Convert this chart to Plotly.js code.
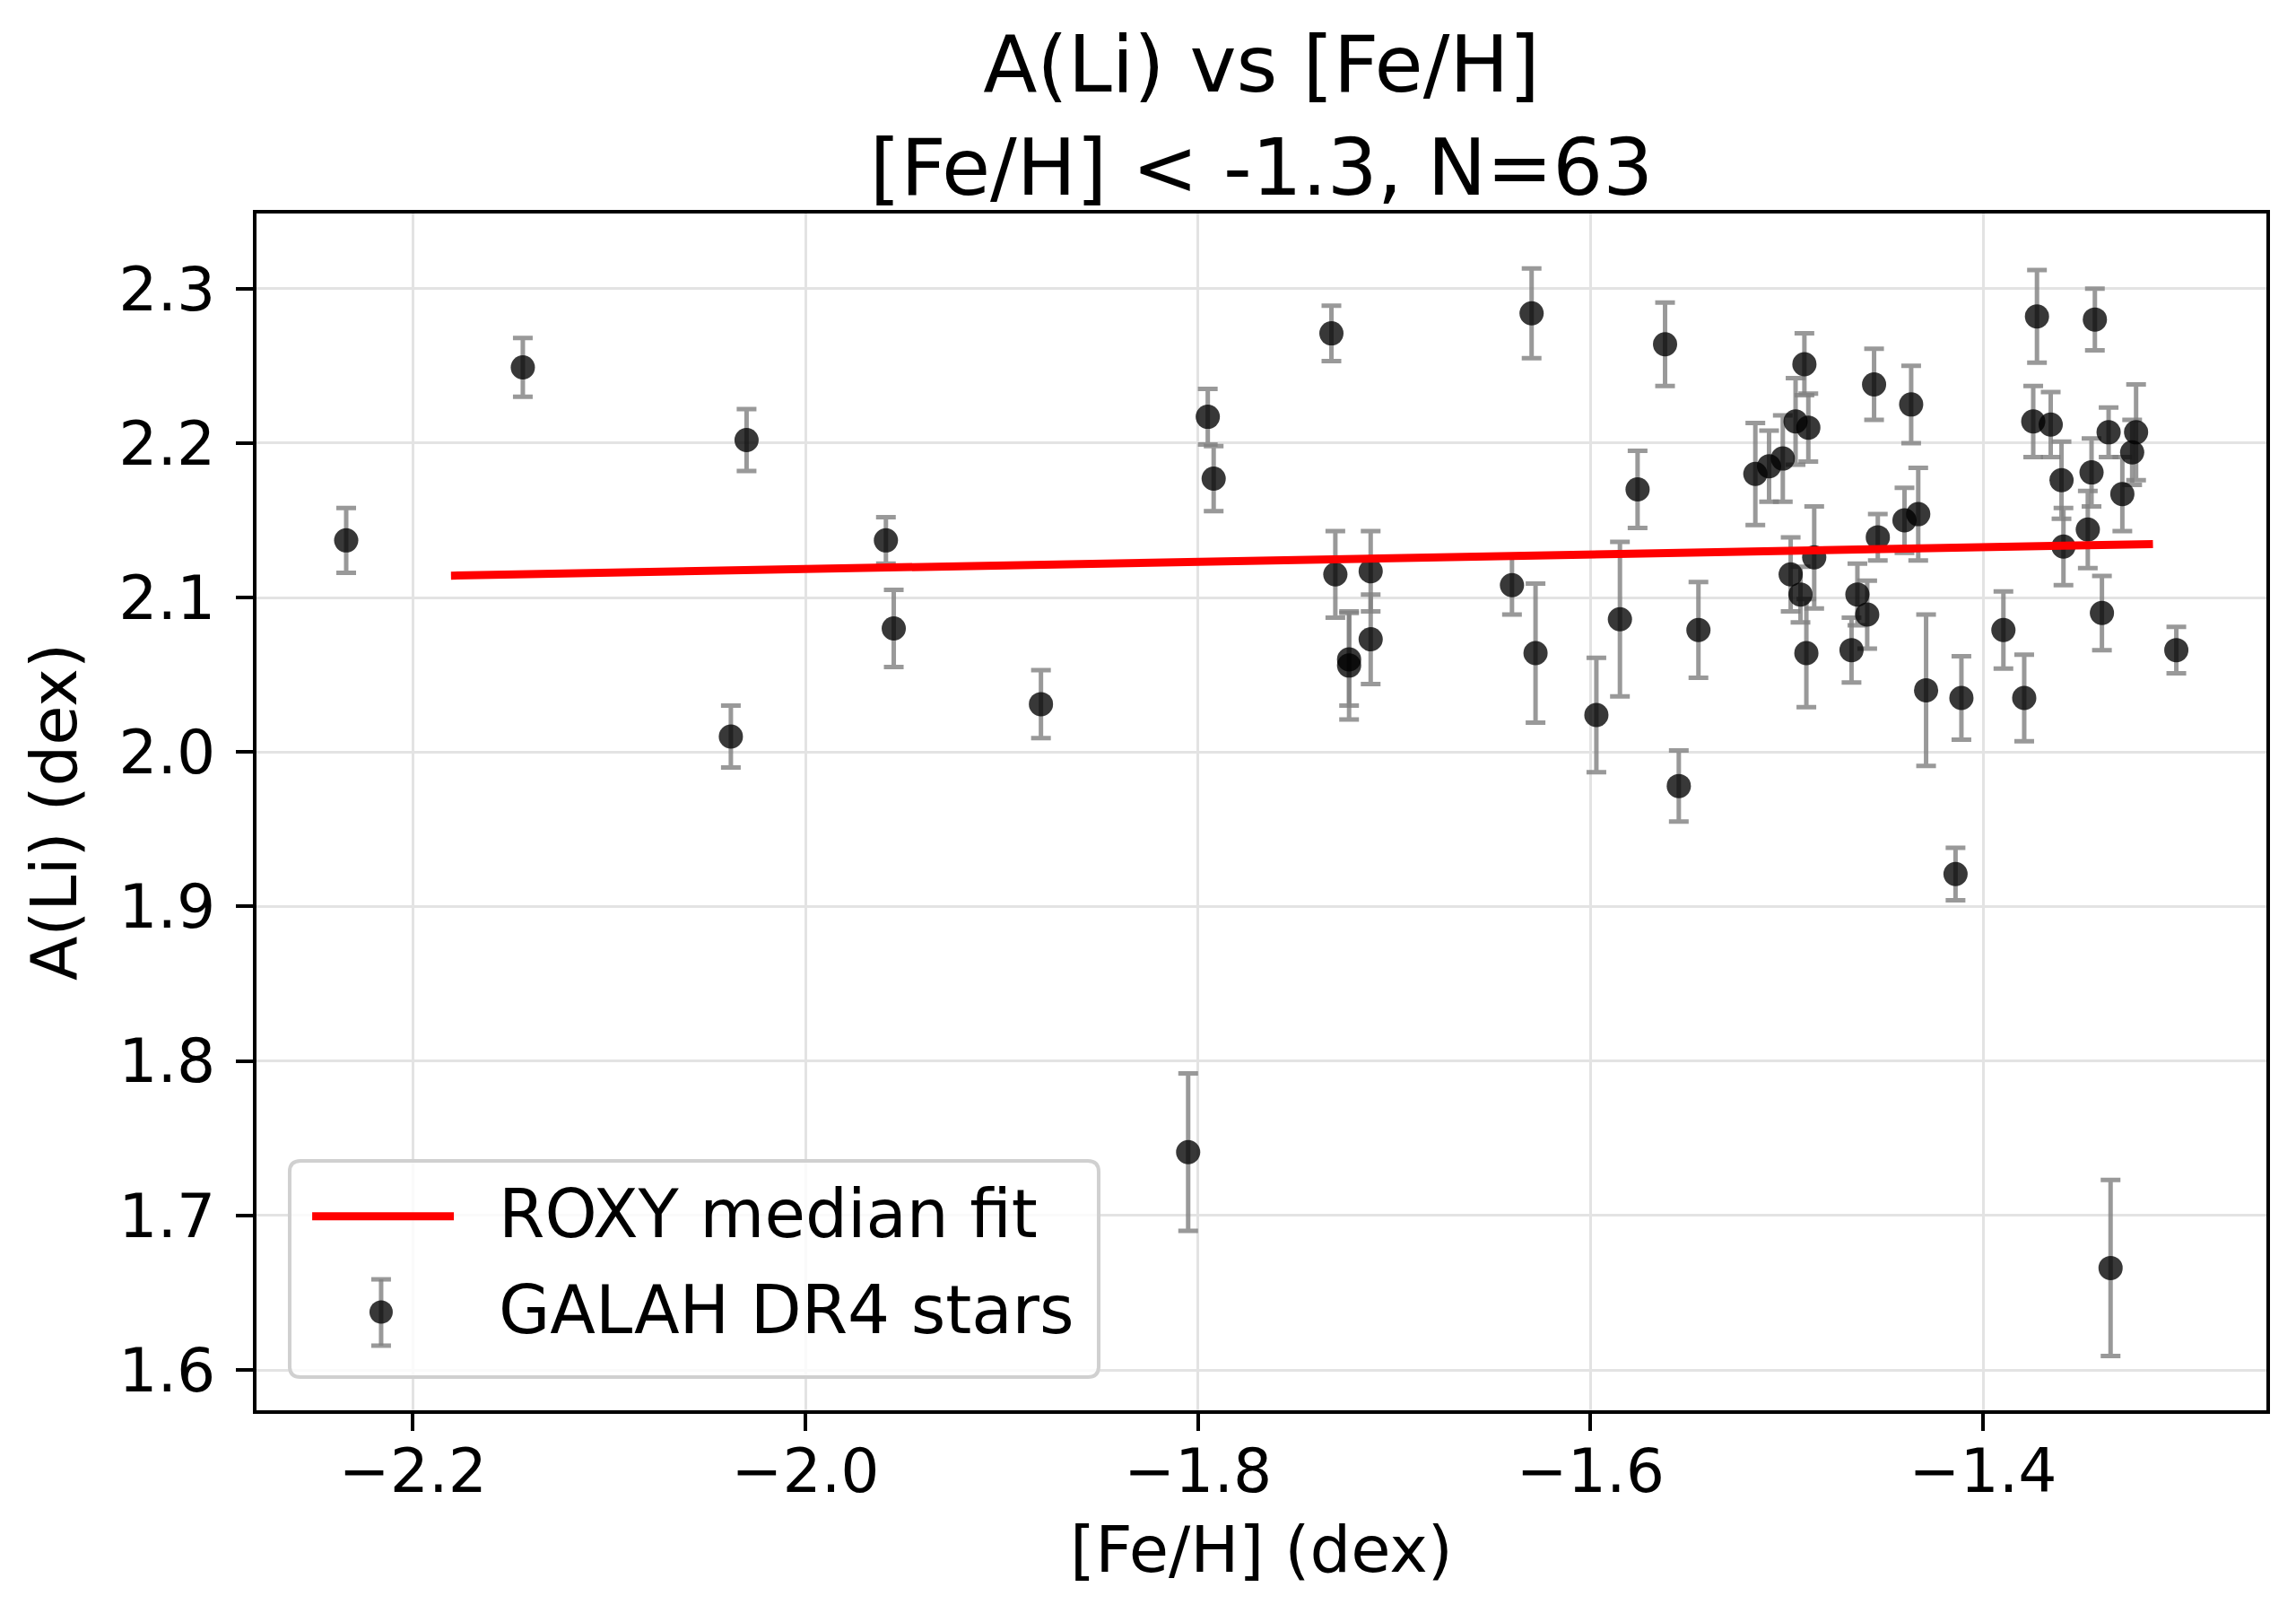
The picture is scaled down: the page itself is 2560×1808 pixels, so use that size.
<!DOCTYPE html>
<html>
<head>
<meta charset="utf-8">
<script src="https://cdn.plot.ly/plotly-3.0.1.min.js"></script>
<style>
  html, body { margin: 0; padding: 0; background: #fff; }
  #chart { width: 2560px; height: 1808px; }
</style>
</head>
<body>
<div id="chart"></div>
<script>
// GALAH DR4 stars with [Fe/H] < -1.3
const feh = [
  -2.234, -2.144, -2.030, -2.038, -1.959, -1.955, -1.880, -1.795, -1.792, -1.805,
  -1.732, -1.730, -1.712, -1.712, -1.723, -1.723, -1.640, -1.628, -1.630, -1.597,
  -1.585, -1.576, -1.562, -1.555, -1.545, -1.516, -1.509, -1.502, -1.4955, -1.489,
  -1.491, -1.498, -1.493, -1.486, -1.490, -1.467, -1.464, -1.459, -1.4555, -1.4536,
  -1.440, -1.4366, -1.433, -1.429, -1.414, -1.411, -1.3896, -1.379, -1.3725, -1.3744,
  -1.3655, -1.360, -1.359, -1.343, -1.3447, -1.3466, -1.336, -1.3394, -1.335, -1.329,
  -1.324, -1.322, -1.3015
];
const aLi = [
  2.137, 2.249, 2.202, 2.010, 2.137, 2.080, 2.031, 2.217, 2.177, 1.741,
  2.271, 2.115, 2.117, 2.073, 2.060, 2.056, 2.108, 2.064, 2.284, 2.024,
  2.086, 2.170, 2.264, 1.978, 2.079, 2.180, 2.185, 2.190, 2.214, 2.210,
  2.251, 2.115, 2.102, 2.126, 2.064, 2.066, 2.102, 2.089, 2.238, 2.139,
  2.150, 2.225, 2.154, 2.040, 1.921, 2.035, 2.079, 2.035, 2.282, 2.214,
  2.212, 2.176, 2.133, 2.280, 2.181, 2.144, 2.207, 2.090, 1.666, 2.167,
  2.194, 2.207, 2.066
];
const aLiErr = [
  0.021, 0.019, 0.020, 0.020, 0.015, 0.025, 0.022, 0.018, 0.021, 0.051,
  0.018, 0.028, 0.026, 0.029, 0.030, 0.035, 0.019, 0.045, 0.029, 0.037,
  0.050, 0.025, 0.027, 0.023, 0.031, 0.033, 0.023, 0.028, 0.028, 0.022,
  0.020, 0.024, 0.018, 0.033, 0.035, 0.021, 0.020, 0.022, 0.023, 0.015,
  0.021, 0.025, 0.030, 0.049, 0.017, 0.027, 0.025, 0.028, 0.030, 0.023,
  0.021, 0.025, 0.025, 0.020, 0.022, 0.025, 0.016, 0.024, 0.057, 0.024,
  0.021, 0.031, 0.015
];

// ROXY median fit end points
const fitX = [-2.1806, -1.3134];
const fitY = [2.1142, 2.1346];

const FONT = "DejaVu Sans, Liberation Sans, sans-serif";
const ERR_COLOR = "rgba(128,128,128,0.8)";
const DOT_COLOR = "rgba(0,0,0,0.78)";

const starsTrace = {
  type: "scatter",
  mode: "markers",
  x: feh,
  y: aLi,
  error_y: {
    type: "data",
    array: aLiErr,
    visible: true,
    color: ERR_COLOR,
    thickness: 5,
    width: 11
  },
  marker: { size: 27, color: DOT_COLOR, line: { width: 0 } },
  name: "GALAH DR4 stars",
  hoverinfo: "x+y"
};

const fitTrace = {
  type: "scatter",
  mode: "lines",
  x: fitX,
  y: fitY,
  line: { color: "red", width: 9 },
  name: "ROXY median fit",
  hoverinfo: "skip"
};

// hand-built legend (matplotlib style), positioned in paper coords
function roundedBox(x0, y0, x1, y1, rx, ry) {
  return `M ${x0 + rx} ${y0} L ${x1 - rx} ${y0} Q ${x1} ${y0} ${x1} ${y0 + ry} ` +
         `L ${x1} ${y1 - ry} Q ${x1} ${y1} ${x1 - rx} ${y1} ` +
         `L ${x0 + rx} ${y1} Q ${x0} ${y1} ${x0} ${y1 - ry} ` +
         `L ${x0} ${y0 + ry} Q ${x0} ${y0} ${x0 + rx} ${y0} Z`;
}

const legX0 = 0.0165, legX1 = 0.419, legY0 = 0.0277, legY1 = 0.2084;
const row1Y = 0.1621, row2Y = 0.0821;
const swatchX = 0.0620;

const shapes = [
  {
    type: "path", xref: "paper", yref: "paper", layer: "above",
    path: roundedBox(legX0, legY0, legX1, legY1, 0.0054, 0.009),
    fillcolor: "rgba(255,255,255,0.8)",
    line: { color: "#d0d0d0", width: 4 }
  },
  {
    type: "line", xref: "paper", yref: "paper", layer: "above",
    x0: 0.0277, x1: 0.0982, y0: row1Y, y1: row1Y,
    line: { color: "red", width: 9 }
  },
  {
    type: "line", xref: "paper", yref: "paper", layer: "above",
    x0: swatchX, x1: swatchX, y0: 0.054, y1: 0.1094,
    line: { color: ERR_COLOR, width: 5 }
  },
  {
    type: "line", xref: "paper", yref: "paper", layer: "above",
    x0: swatchX - 0.0049, x1: swatchX + 0.0049, y0: 0.1094, y1: 0.1094,
    line: { color: ERR_COLOR, width: 5 }
  },
  {
    type: "line", xref: "paper", yref: "paper", layer: "above",
    x0: swatchX - 0.0049, x1: swatchX + 0.0049, y0: 0.054, y1: 0.054,
    line: { color: ERR_COLOR, width: 5 }
  },
  {
    type: "circle", xref: "paper", yref: "paper", layer: "above",
    x0: swatchX - 0.0058, x1: swatchX + 0.0058,
    y0: row2Y - 0.00975, y1: row2Y + 0.00975,
    fillcolor: DOT_COLOR, line: { width: 0 }
  }
];

const annotations = [
  {
    xref: "paper", yref: "paper", x: 0.1195, y: row1Y + 0.002,
    xanchor: "left", yanchor: "middle", showarrow: false,
    text: "ROXY median fit",
    font: { family: FONT, size: 74, color: "black" }
  },
  {
    xref: "paper", yref: "paper", x: 0.1195, y: row2Y + 0.002,
    xanchor: "left", yanchor: "middle", showarrow: false,
    text: "GALAH DR4 stars",
    font: { family: FONT, size: 74, color: "black" }
  }
];

const axisCommon = {
  showline: true,
  mirror: true,
  linecolor: "black",
  linewidth: 4,
  ticks: "outside",
  ticklen: 19,
  tickwidth: 4,
  tickcolor: "black",
  showgrid: true,
  gridcolor: "#e3e3e3",
  gridwidth: 3,
  zeroline: false,
  automargin: false,
  tickfont: { family: FONT, size: 68, color: "black" }
};

const layout = {
  width: 2560,
  height: 1808,
  paper_bgcolor: "white",
  plot_bgcolor: "white",
  showlegend: false,
  margin: { l: 286, r: 33, t: 238, b: 236 },
  font: { family: FONT, color: "black" },
  title: {
    text: "A(Li) vs [Fe/H]<br>[Fe/H] &lt; -1.3, N=63",
    font: { family: FONT, size: 88, color: "black" },
    xref: "paper",
    x: 0.5,
    xanchor: "center",
    yref: "container",
    y: 0.9435,
    yanchor: "middle"
  },
  xaxis: Object.assign({}, axisCommon, {
    range: [-2.2797, -1.2556],
    tick0: 0,
    dtick: 0.2,
    tickformat: ".1f",
    ticklabelstandoff: -14,
    title: {
      text: "[Fe/H] (dex)",
      font: { family: FONT, size: 72, color: "black" },
      standoff: 25
    }
  }),
  yaxis: Object.assign({}, axisCommon, {
    range: [1.5739, 2.3486],
    tick0: 0,
    dtick: 0.1,
    tickformat: ".1f",
    ticklabelstandoff: 9,
    title: {
      text: "A(Li) (dex)",
      font: { family: FONT, size: 72, color: "black" },
      standoff: 24
    }
  }),
  shapes: shapes,
  annotations: annotations
};

Plotly.newPlot("chart", [starsTrace, fitTrace], layout, {
  displayModeBar: false,
  staticPlot: true
});
</script>
</body>
</html>
